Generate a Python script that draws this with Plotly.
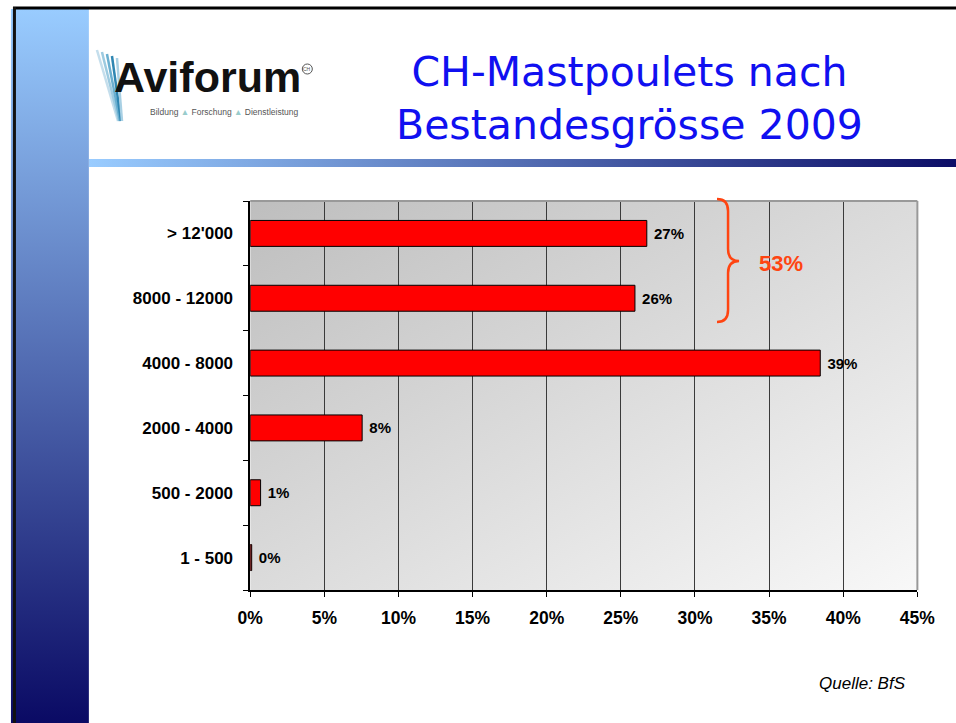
import base64
import plotly.graph_objects as go

categories = ["1 - 500", "500 - 2000", "2000 - 4000", "4000 - 8000", "8000 - 12000", "> 12'000"]
values = [0.1, 0.7, 7.55, 38.45, 25.95, 26.75]
value_labels = ["0%", "1%", "8%", "39%", "26%", "27%"]
x_ticks = [0, 5, 10, 15, 20, 25, 30, 35, 40, 45]
x_tick_labels = ["0%", "5%", "10%", "15%", "20%", "25%", "30%", "35%", "40%", "45%"]
group_label = "53%"
title_lines = ["CH-Mastpoulets nach", "Bestandesgrösse 2009"]
source_text = "Quelle: BfS"

W, H = 990, 723
SX, OX = 0.967, 12.2   # observed horizontal mapping of the capture


def fx(x):
    return (x - OX) / SX


def px(x):
    return fx(x) / W


def py(y):
    return 1 - y / H


def svg_uri(svg):
    return "data:image/svg+xml;base64," + base64.b64encode(svg.encode()).decode()


def grad_svg(x1, y1, x2, y2, c1, c2):
    return svg_uri(
        '<svg xmlns="http://www.w3.org/2000/svg" width="100" height="100" viewBox="0 0 100 100" preserveAspectRatio="none">'
        f'<defs><linearGradient id="g" x1="{x1}" y1="{y1}" x2="{x2}" y2="{y2}">'
        f'<stop offset="0" stop-color="{c1}"/><stop offset="1" stop-color="{c2}"/></linearGradient></defs>'
        '<rect x="0" y="0" width="100" height="100" fill="url(#g)"/></svg>'
    )


fig = go.Figure()
fig.add_trace(go.Bar(
    y=categories, x=values, orientation="h",
    marker=dict(color="#FF0000", line=dict(color="#000000", width=1)),
    text=value_labels, texttemplate=" %{text}", textposition="outside", cliponaxis=False,
    textfont=dict(family="Liberation Sans, Arial", size=15, color="#000000", weight="bold"),
    width=0.4, hoverinfo="skip",
))

x0p, x1p = px(249), px(915)
y0p, y1p = py(590), py(201)

fig.update_layout(
    width=W, height=H, autosize=False,
    margin=dict(l=0, r=0, t=0, b=0),
    paper_bgcolor="#FFFFFF", plot_bgcolor="rgba(0,0,0,0)",
    showlegend=False,
    xaxis=dict(
        domain=[x0p, x1p], range=[0, 45], tickvals=x_ticks, ticktext=x_tick_labels,
        showgrid=True, gridcolor="#3A3A3A", gridwidth=1,
        showline=True, linecolor="#000000", linewidth=1.5,
        ticks="outside", ticklen=5, tickcolor="#000000", ticklabelstandoff=6,
        tickfont=dict(family="Liberation Sans, Arial", size=17.5, color="#000000", weight="bold"),
        zeroline=False, fixedrange=True,
    ),
    yaxis=dict(
        domain=[y0p, y1p], type="category", categoryorder="array", categoryarray=categories,
        range=[-0.5, 5.5], showgrid=False,
        showline=True, linecolor="#000000", linewidth=1.5,
        ticks="outside", ticklen=5, tickcolor="#000000", tickson="boundaries", ticklabelstandoff=12,
        tickfont=dict(family="Liberation Sans, Arial", size=17, color="#000000", weight="bold"),
        fixedrange=True,
    ),
    font=dict(family="Liberation Sans, Arial"),
)

images = [
    dict(source=grad_svg(0, 0, 0, 1, "#99CCFF", "#0A0A64"), xref="paper", yref="paper",
         x=px(10), y=py(9), sizex=px(88) - px(10), sizey=(723 - 9) / H, sizing="stretch",
         xanchor="left", yanchor="top", layer="below"),
    dict(source=grad_svg(0, 0, 1, 0, "#99CCFF", "#0A0A64"), xref="paper", yref="paper",
         x=px(88), y=py(159), sizex=1 - px(88), sizey=8 / H, sizing="stretch",
         xanchor="left", yanchor="top", layer="below"),
    dict(source=grad_svg(0, 0, 1, 1, "#BEBEBE", "#F8F8F8"), xref="paper", yref="paper",
         x=x0p, y=y1p, sizex=x1p - x0p, sizey=y1p - y0p, sizing="stretch",
         xanchor="left", yanchor="top", layer="below"),
]
fig.update_layout(images=images)

shapes = [
    dict(type="line", xref="paper", yref="paper", x0=0, x1=1, y0=py(8), y1=py(8),
         line=dict(color="#000000", width=3)),
    dict(type="line", xref="paper", yref="paper", x0=max(px(8.5), 1.5 / W), x1=max(px(8.5), 1.5 / W),
         y0=py(7), y1=0, line=dict(color="#111111", width=3)),
    dict(type="line", xref="paper", yref="paper", x0=x0p, x1=x1p, y0=y1p, y1=y1p,
         line=dict(color="#999999", width=2)),
    dict(type="line", xref="paper", yref="paper", x0=x1p, x1=x1p, y0=y0p, y1=y1p,
         line=dict(color="#999999", width=2)),
]


def P(x, y):
    return f"{px(x):.5f},{py(y):.5f}"


bracket = (f"M{P(715,199)} Q{P(726,199)} {P(726,211)} L{P(726,249)} Q{P(726,261)} {P(737,261)} "
           f"Q{P(726,261)} {P(726,273)} L{P(726,310)} Q{P(726,322)} {P(715,322)}")
shapes.append(dict(type="path", xref="paper", yref="paper", path=bracket,
                   line=dict(color="#FF4411", width=2.5)))

stripe_cols = ["#C4DEEC", "#9CCAE0", "#6AAFD0", "#2F86B2", "#A8D0E4"]
for i, c in enumerate(stripe_cols):
    shapes.append(dict(type="line", xref="paper", yref="paper",
                       x0=px(96 + 5 * i), y0=py(50 + 2 * i), x1=px(117 + i), y1=py(121),
                       line=dict(color=c, width=2.5)))
shapes.append(dict(type="circle", xref="paper", yref="paper",
                   x0=px(301), x1=px(311), y0=py(74), y1=py(64),
                   line=dict(color="#555555", width=1)))
fig.update_layout(shapes=shapes)

annotations = [
    dict(text="<br>".join(title_lines), x=px(628), y=py(99), xref="paper", yref="paper",
         showarrow=False, xanchor="center", yanchor="middle", align="center",
         font=dict(family="DejaVu Sans", size=41, color="#1010F0")),
    dict(text=group_label, x=px(779), y=py(263), xref="paper", yref="paper",
         showarrow=False, xanchor="center", yanchor="middle",
         font=dict(family="Liberation Sans, Arial", size=22, color="#FF4411", weight="bold")),
    dict(text=f"<i>{source_text}</i>", x=px(906), y=py(683), xref="paper", yref="paper",
         showarrow=False, xanchor="right", yanchor="middle",
         font=dict(family="Liberation Sans, Arial", size=17, color="#000000")),
    dict(text="<b>Aviforum</b>", x=px(111), y=py(103), xref="paper", yref="paper",
         showarrow=False, xanchor="left", yanchor="bottom",
         font=dict(family="Liberation Sans, Arial", size=43, color="#111111")),
    dict(text="CH", x=px(306), y=py(69), xref="paper", yref="paper",
         showarrow=False, xanchor="center", yanchor="middle",
         font=dict(family="Liberation Sans, Arial", size=5, color="#555555")),
    dict(text="Bildung <span style='color:#9cc'>▲</span> Forschung <span style='color:#9cc'>▲</span> Dienstleistung",
         x=px(147), y=py(112), xref="paper", yref="paper",
         showarrow=False, xanchor="left", yanchor="middle",
         font=dict(family="Liberation Sans, Arial", size=8.5, color="#555555")),
]
fig.update_layout(annotations=annotations)

fig.write_html(
    "out.html",
    config={"responsive": False, "displayModeBar": False},
    post_script="document.body.style.margin='0';document.body.style.overflow='hidden';",
)
